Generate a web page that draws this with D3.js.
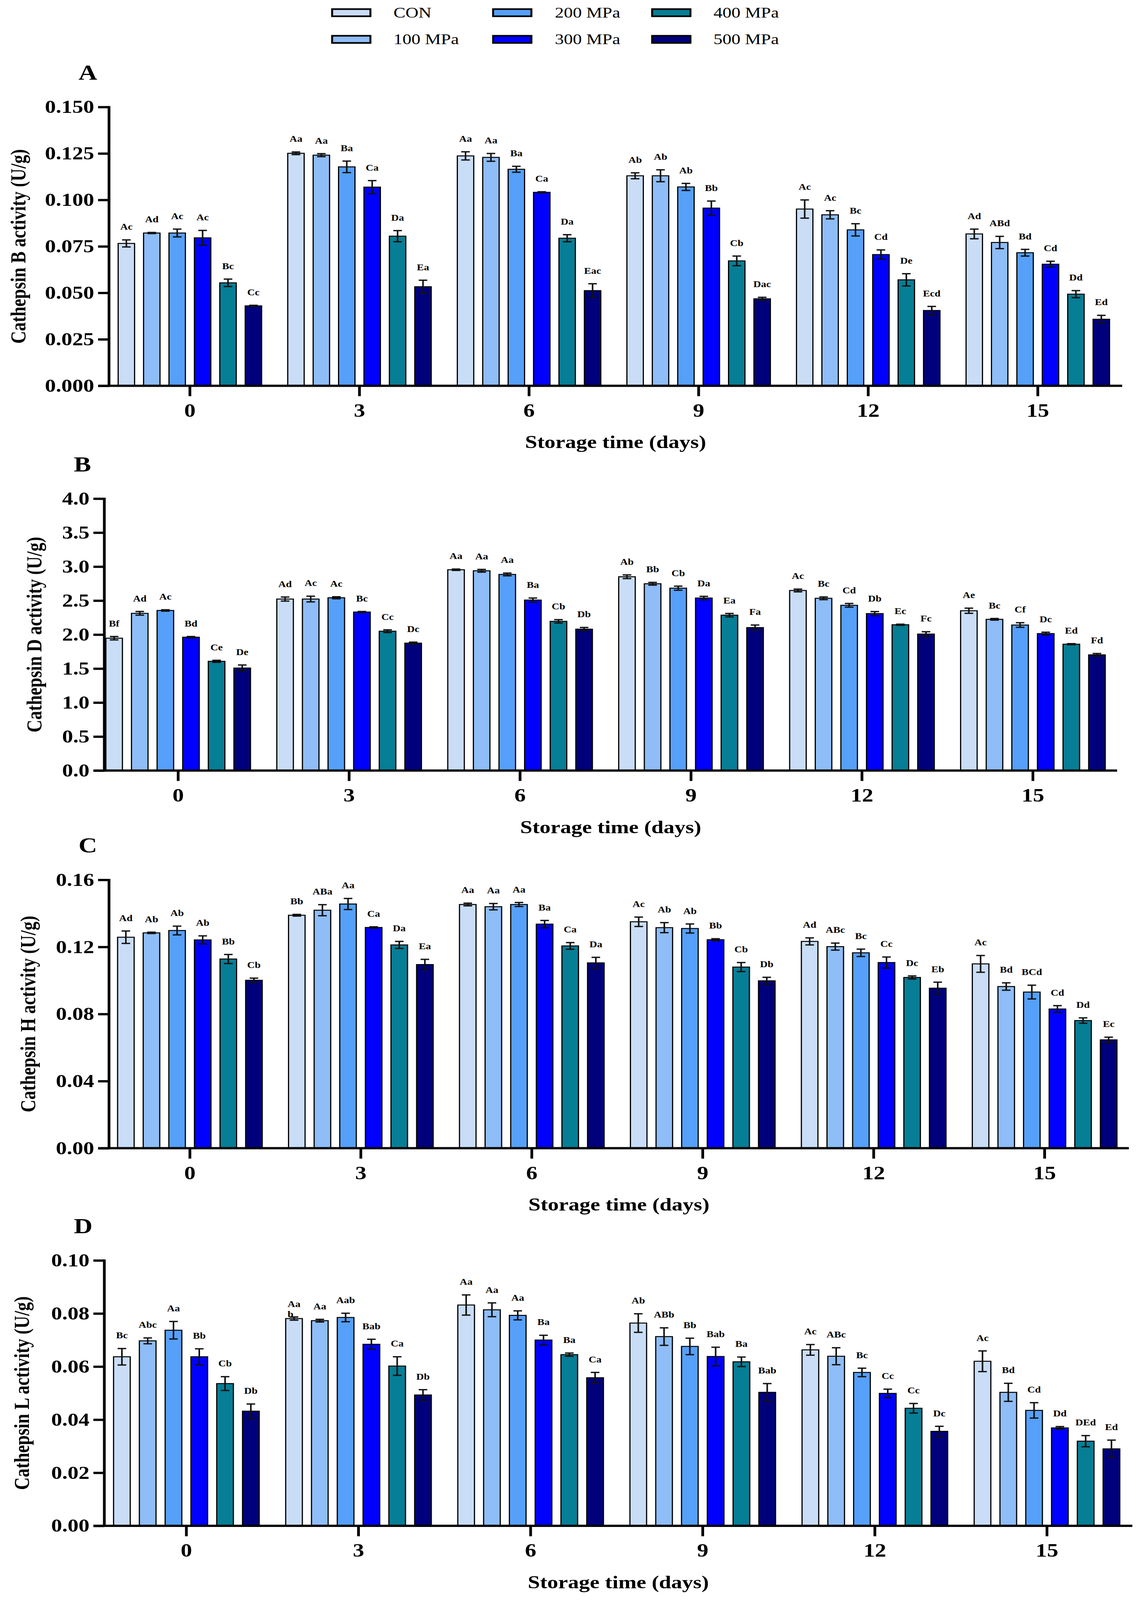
<!DOCTYPE html>
<html><head><meta charset="utf-8">
<script src="https://cdn.jsdelivr.net/npm/d3@7"></script>
<style>html,body{margin:0;padding:0;background:#fff;overflow:hidden}
#chart{display:block;width:100vw;height:100vh}</style>
</head><body>
<svg id="chart" viewBox="0 0 2915 4919" preserveAspectRatio="none"></svg>
<script>
const days = ["0","3","6","9","12","15"];
const series = ["CON","100 MPa","200 MPa","300 MPa","400 MPa","500 MPa"];
const seriesColors = ["#c9ddf7","#8fbdf7","#56a0fa","#0000ff","#067e95","#00007c"];

// Panel A: Cathepsin B (rows = days, cols = series)
const catB_mean = [
 [0.0766,0.0822,0.0822,0.0796,0.0554,0.0430],
 [0.1251,0.1241,0.1178,0.1069,0.0805,0.0533],
 [0.1237,0.1229,0.1165,0.1041,0.0794,0.0512],
 [0.1130,0.1130,0.1070,0.0956,0.0672,0.0468],
 [0.0951,0.0920,0.0839,0.0706,0.0570,0.0405],
 [0.0817,0.0771,0.0716,0.0654,0.0493,0.0358]];
const catB_sd = [
 [0.0019,0.0003,0.0021,0.0040,0.0020,0.0003],
 [0.0007,0.0008,0.0031,0.0035,0.0030,0.0035],
 [0.0022,0.0021,0.0016,0.0003,0.0019,0.0037],
 [0.0016,0.0032,0.0019,0.0038,0.0026,0.0008],
 [0.0049,0.0022,0.0033,0.0025,0.0033,0.0022],
 [0.0026,0.0033,0.0018,0.0016,0.0019,0.0021]];
const catB_lab = [
 ["Ac","Ad","Ac","Ac","Bc","Cc"],
 ["Aa","Aa","Ba","Ca","Da","Ea"],
 ["Aa","Aa","Ba","Ca","Da","Eac"],
 ["Ab","Ab","Ab","Bb","Cb","Dac"],
 ["Ac","Ac","Bc","Cd","De","Ecd"],
 ["Ad","ABd","Bd","Cd","Dd","Ed"]];
const catB_ticks = [0,0.025,0.05,0.075,0.1,0.125,0.15];

// Panel B: Cathepsin D
const catD_mean = [
 [1.947,2.313,2.355,1.962,1.607,1.508],
 [2.523,2.523,2.542,2.332,2.050,1.874],
 [2.954,2.939,2.885,2.508,2.195,2.080],
 [2.851,2.748,2.683,2.538,2.286,2.103],
 [2.649,2.534,2.431,2.309,2.145,2.008],
 [2.351,2.225,2.141,2.015,1.859,1.702]];
const catD_sd = [
 [0.025,0.027,0.010,0.010,0.015,0.045],
 [0.030,0.042,0.015,0.008,0.020,0.015],
 [0.010,0.020,0.020,0.030,0.025,0.025],
 [0.027,0.020,0.030,0.025,0.025,0.038],
 [0.020,0.020,0.027,0.030,0.008,0.034],
 [0.038,0.012,0.034,0.020,0.008,0.020]];
const catD_lab = [
 ["Bf","Ad","Ac","Bd","Ce","De"],
 ["Ad","Ac","Ac","Bc","Cc","Dc"],
 ["Aa","Aa","Aa","Ba","Cb","Db"],
 ["Ab","Bb","Cb","Da","Ea","Fa"],
 ["Ac","Bc","Cd","Db","Ec","Fc"],
 ["Ae","Bc","Cf","Dc","Ed","Fd"]];
const catD_ticks = [0,0.5,1,1.5,2,2.5,3,3.5,4];

// Panel C: Cathepsin H
const catH_mean = [
 [0.1258,0.1284,0.1298,0.1242,0.1128,0.1001],
 [0.1389,0.1419,0.1456,0.1316,0.1212,0.1095],
 [0.1453,0.1440,0.1453,0.1336,0.1206,0.1105],
 [0.1350,0.1315,0.1310,0.1243,0.1080,0.0998],
 [0.1233,0.1202,0.1165,0.1107,0.1018,0.0954],
 [0.1099,0.0964,0.0931,0.0830,0.0761,0.0646]];
const catH_sd = [
 [0.0037,0.0004,0.0026,0.0024,0.0027,0.0013],
 [0.0005,0.0033,0.0033,0.0004,0.0021,0.0031],
 [0.0008,0.0019,0.0012,0.0022,0.0020,0.0033],
 [0.0028,0.0030,0.0027,0.0006,0.0027,0.0021],
 [0.0021,0.0021,0.0022,0.0033,0.0009,0.0036],
 [0.0050,0.0022,0.0041,0.0020,0.0016,0.0016]];
const catH_lab = [
 ["Ad","Ab","Ab","Ab","Bb","Cb"],
 ["Bb","ABa","Aa","Ca","Da","Ea"],
 ["Aa","Aa","Aa","Ba","Ca","Da"],
 ["Ac","Ab","Ab","Bb","Cb","Db"],
 ["Ad","ABc","Bc","Cc","Dc","Eb"],
 ["Ac","Bd","BCd","Cd","Dd","Ec"]];
const catH_ticks = [0,0.04,0.08,0.12,0.16];

// Panel D: Cathepsin L
const catL_mean = [
 [0.0637,0.0697,0.0737,0.0637,0.0536,0.0432],
 [0.0781,0.0773,0.0785,0.0684,0.0602,0.0493],
 [0.0832,0.0814,0.0793,0.0700,0.0645,0.0558],
 [0.0764,0.0713,0.0676,0.0638,0.0618,0.0503],
 [0.0663,0.0639,0.0578,0.0499,0.0443,0.0356],
 [0.0620,0.0503,0.0435,0.0369,0.0319,0.0290]];
const catL_sd = [
 [0.0031,0.0011,0.0033,0.0030,0.0026,0.0027],
 [0.0006,0.0005,0.0016,0.0019,0.0035,0.0020],
 [0.0038,0.0026,0.0017,0.0018,0.0006,0.0020],
 [0.0035,0.0033,0.0031,0.0035,0.0018,0.0033],
 [0.0020,0.0032,0.0016,0.0016,0.0018,0.0019],
 [0.0039,0.0034,0.0029,0.0005,0.0021,0.0033]];
const catL_lab = [
 ["Bc","Abc","Aa","Bb","Cb","Db"],
 ["Aa\nb","Aa","Aab","Bab","Ca","Db"],
 ["Aa","Aa","Aa","Ba","Ba","Ca"],
 ["Ab","ABb","Bb","Bab","Ba","Bab"],
 ["Ac","ABc","Bc","Cc","Cc","Dc"],
 ["Ac","Bd","Cd","Dd","DEd","Ed"]];
const catL_ticks = [0,0.02,0.04,0.06,0.08,0.10];

const FONT = "'Liberation Serif','Times New Roman',serif";
const svg = d3.select("#chart");

// Legend
const legendCols = [[850,1007],[1262,1420],[1669,1826]];
const legendRows = [39,121];
series.forEach((s,i)=>{
  const col = legendCols[Math.floor(i/2)], ry = legendRows[i%2];
  svg.append("rect").attr("x",col[0]).attr("y",ry-11).attr("width",98).attr("height",22)
    .attr("fill",seriesColors[i]).attr("stroke","#000").attr("stroke-width",5);
  svg.append("text").attr("x",col[1]).attr("y",ry+15).attr("font-family",FONT)
    .attr("font-size",46).attr("fill","#000").text(s);
});

const panels = [
  {letter:"A", title:"Cathepsin B activity (U/g)", mean:catB_mean, sd:catB_sd, lab:catB_lab, ticks:catB_ticks, fmt:".3f",
   top:329, bottom:1186, axisX:279, xEnd:2872, c0:486, step:434, titleX:47},
  {letter:"B", title:"Cathepsin D activity (U/g)", mean:catD_mean, sd:catD_sd, lab:catD_lab, ticks:catD_ticks, fmt:".1f",
   top:1533, bottom:2369, axisX:267, xEnd:2859, c0:456, step:437.5, titleX:88},
  {letter:"C", title:"Cathepsin H activity (U/g)", mean:catH_mean, sd:catH_sd, lab:catH_lab, ticks:catH_ticks, fmt:".2f",
   top:2705, bottom:3530, axisX:279, xEnd:2889, c0:486, step:437.5, titleX:72},
  {letter:"D", title:"Cathepsin L activity (U/g)", mean:catL_mean, sd:catL_sd, lab:catL_lab, ticks:catL_ticks, fmt:".2f",
   top:3875, bottom:4691, axisX:267, xEnd:2898, c0:477, step:440.5, titleX:56}
];

panels.forEach(p=>{
  const g = svg.append("g");
  const yMax = p.ticks[p.ticks.length-1];
  const y = d3.scaleLinear().domain([0,yMax]).range([p.bottom,p.top]);
  const pi = 0.154;
  const x0 = d3.scaleBand().domain(days)
     .range([p.c0 - p.step/2, p.c0 + p.step*(days.length-0.5)])
     .paddingInner(pi).paddingOuter(pi/2);
  const x1 = d3.scaleBand().domain(series).range([0,x0.bandwidth()]).paddingInner(0.354).paddingOuter(0);

  days.forEach((d,di)=>{
    series.forEach((s,si)=>{
      const m = p.mean[di][si], e = p.sd[di][si];
      const bx = x0(d)+x1(s), bw = x1.bandwidth(), cx = bx+bw/2;
      g.append("rect").attr("x",bx).attr("y",y(m)).attr("width",bw).attr("height",y(0)-y(m))
        .attr("fill",seriesColors[si]).attr("stroke","#000").attr("stroke-width",3);
      const eg = g.append("g").attr("stroke","#111").attr("stroke-width",4);
      eg.append("line").attr("x1",cx).attr("x2",cx).attr("y1",y(m-e)).attr("y2",y(m+e));
      eg.append("line").attr("x1",cx-11).attr("x2",cx+11).attr("y1",y(m+e)).attr("y2",y(m+e));
      eg.append("line").attr("x1",cx-11).attr("x2",cx+11).attr("y1",y(m-e)).attr("y2",y(m-e));
      const lines = p.lab[di][si].split("\n");
      const t = g.append("text").attr("font-family",FONT).attr("font-weight","bold")
        .attr("font-size",27).attr("fill","#000").attr("text-anchor","middle")
        .attr("x",cx).attr("y",y(m+e)-31).text(lines[0]);
      if(lines.length>1){
        const w = t.node().getComputedTextLength();
        g.append("text").attr("font-family",FONT).attr("font-weight","bold")
          .attr("font-size",27).attr("fill","#000").attr("text-anchor","start")
          .attr("x",cx-w/2).attr("y",y(m+e)-31+32).text(lines[1]);
      }
    });
  });

  const ya = g.append("g").attr("transform",`translate(${p.axisX},0)`)
    .call(d3.axisLeft(y).tickValues(p.ticks).tickFormat(d3.format(p.fmt)).tickSize(28).tickSizeOuter(0).tickPadding(10));
  ya.select(".domain").remove();
  ya.selectAll(".tick line").attr("stroke","#000").attr("stroke-width",7);
  ya.selectAll(".tick text").attr("font-family",FONT).attr("font-weight","bold").attr("font-size",56).attr("fill","#000");
  g.append("line").attr("x1",p.axisX).attr("x2",p.axisX).attr("y1",p.top-3).attr("y2",p.bottom+3)
    .attr("stroke","#000").attr("stroke-width",7);

  const xa = g.append("g").attr("transform",`translate(0,${p.bottom})`)
    .call(d3.axisBottom(x0).tickSize(32).tickSizeOuter(0).tickPadding(22));
  xa.select(".domain").remove();
  xa.selectAll(".tick line").attr("stroke","#000").attr("stroke-width",7);
  xa.selectAll(".tick text").attr("font-family",FONT).attr("font-weight","bold").attr("font-size",58).attr("fill","#000");
  g.append("line").attr("x1",p.axisX-28).attr("x2",p.xEnd).attr("y1",p.bottom).attr("y2",p.bottom)
    .attr("stroke","#000").attr("stroke-width",7);

  g.append("text").attr("x",(p.axisX+p.xEnd)/2).attr("y",p.bottom+192).attr("text-anchor","middle")
    .attr("font-family",FONT).attr("font-weight","bold").attr("font-size",56).attr("fill","#000")
    .text("Storage time (days)");
  g.append("text").attr("transform",`translate(${p.titleX+18},${(p.top+p.bottom)/2}) rotate(-90)`)
    .attr("text-anchor","middle").attr("font-family",FONT).attr("font-weight","bold")
    .attr("font-size",54).attr("fill","#000").text(p.title);
  g.append("text").attr("x",p.axisX-78).attr("y",p.top-84).attr("font-family",FONT).attr("font-weight","bold")
    .attr("font-size",66).attr("fill","#000").text(p.letter);
});
</script>
</body></html>
